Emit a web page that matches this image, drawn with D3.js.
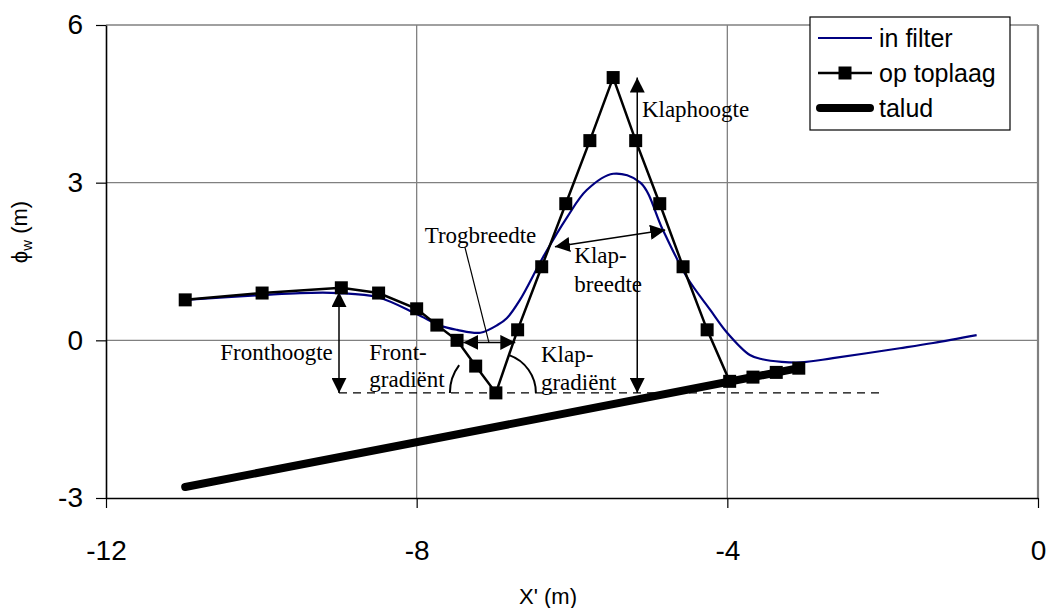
<!DOCTYPE html>
<html>
<head>
<meta charset="utf-8">
<script src="https://cdn.jsdelivr.net/npm/d3@7/dist/d3.min.js"></script>
<style>
  html, body { margin: 0; padding: 0; background: #fff; }
  svg { display: block; }
</style>
</head>
<body>
<script>
// ---------- data ----------
const xTicks = [-12, -8, -4, 0];
const yTicks = [-3, 0, 3, 6];

const filterX = [-10.98, -10.0, -9.5, -9.0, -8.5, -8.0, -7.7, -7.48, -7.18, -6.95, -6.84, -6.67, -6.37, -6.06, -5.81, -5.47, -5.12, -4.83, -4.52, -4.22, -4.0, -3.71, -3.55, -3.3, -3.06, -2.64, -1.78, -1.35, -0.79];
const filterY = [0.77, 0.86, 0.9, 0.9, 0.82, 0.5, 0.28, 0.2, 0.145, 0.3, 0.42, 0.77, 1.59, 2.35, 2.86, 3.17, 3.0, 2.1, 1.2, 0.58, 0.14, -0.28, -0.36, -0.41, -0.42, -0.34, -0.15, -0.05, 0.10];

const toplaagX = [-10.98, -9.99, -8.97, -8.49, -8.0, -7.74, -7.48, -7.24, -6.98, -6.70, -6.39, -6.08, -5.77, -5.47, -5.18, -4.87, -4.57, -4.26, -3.97, -3.67, -3.37, -3.08];
const toplaagY = [0.77, 0.9, 1.0, 0.9, 0.6, 0.29, 0.0, -0.49, -1.0, 0.2, 1.4, 2.6, 3.8, 5.0, 3.8, 2.6, 1.4, 0.2, -0.78, -0.70, -0.61, -0.53];

const taludX = [-10.98, -3.08];
const taludY = [-2.79, -0.53];

const seriesNames = ["in filter", "op toplaag", "talud"];

// annotation geometry in data units
const refLevel = -1.0;
const refX = [-9.0, -2.03];
const frontArrow = { x: -9.0, y1: 0.92, y2: -1.0 };
const klapArrow = { x: -5.16, y1: 5.0, y2: -1.0 };
const trogArrow = { x1: -7.40, x2: -6.73, y: -0.04 };
const trogLeader = { x1: -7.07, y1: -0.04, x2: -7.38, y2: 1.78 };
const klapBreedteArrow = { x1: -6.22, y1: 1.78, x2: -4.80, y2: 2.10 };
const troughPoint = { x: -6.98, y: -1.0 };

// ---------- layout ----------
const W = 1049, H = 608;
const mLeft = 106, mRight = 1038, mTop = 25, mBottom = 498;

const svg = d3.select("body").append("svg").attr("width", W).attr("height", H);
svg.append("rect").attr("width", W).attr("height", H).attr("fill", "#fff");

const x = d3.scaleLinear().domain([-12, 0]).range([mLeft, mRight]);
const y = d3.scaleLinear().domain([-3, 6]).range([mBottom, mTop]);

const sans = "'Liberation Sans', Arial, sans-serif";
const serif = "'Liberation Serif', 'Times New Roman', serif";

// gridlines
const grid = svg.append("g").attr("stroke", "#808080").attr("stroke-width", 1.3);
grid.selectAll("line.v").data(xTicks.filter(d => d > -12 && d < 0)).join("line")
  .attr("x1", d => x(d)).attr("x2", d => x(d)).attr("y1", mTop).attr("y2", mBottom);
grid.selectAll("line.h").data(yTicks.filter(d => d > -3)).join("line")
  .attr("x1", mLeft).attr("x2", mRight).attr("y1", d => y(d)).attr("y2", d => y(d));
grid.append("line").attr("x1", mRight).attr("x2", mRight).attr("y1", mTop).attr("y2", mBottom)
  .attr("stroke-width", 2.2);

// axes
const fmt = d => String(d);
const xAxis = svg.append("g").attr("transform", `translate(0,${mBottom})`)
  .call(d3.axisBottom(x).tickValues(xTicks).tickSize(10).tickSizeOuter(0).tickPadding(32).tickFormat(fmt));
const yAxis = svg.append("g").attr("transform", `translate(${mLeft},0)`)
  .call(d3.axisLeft(y).tickValues(yTicks).tickSize(10).tickSizeOuter(0).tickPadding(13).tickFormat(fmt));
[xAxis, yAxis].forEach(a => {
  a.select(".domain").attr("stroke", "#000").attr("stroke-width", 1.6);
  a.selectAll(".tick line").attr("stroke", "#000").attr("stroke-width", 1.2);
  a.selectAll(".tick text").attr("font-family", sans).attr("font-size", 28).attr("fill", "#000");
});

// axis titles
svg.append("text").attr("x", 548).attr("y", 604).attr("text-anchor", "middle")
  .attr("font-family", sans).attr("font-size", 22).text("X' (m)");
const yt = svg.append("text").attr("transform", "translate(27,232) rotate(-90)")
  .attr("text-anchor", "middle").attr("font-family", sans).attr("font-size", 22);
yt.append("tspan").text("ϕ");
yt.append("tspan").attr("font-size", 15).attr("dy", 5).text("w");
yt.append("tspan").attr("dy", -5).text(" (m)");

// markers for arrows
const defs = svg.append("defs");
defs.append("marker").attr("id", "ah").attr("markerUnits", "userSpaceOnUse")
  .attr("viewBox", "0 0 15 15").attr("refX", 15).attr("refY", 7.5)
  .attr("markerWidth", 15).attr("markerHeight", 15).attr("orient", "auto-start-reverse")
  .append("path").attr("d", "M0,0 L15,7.5 L0,15 Z").attr("fill", "#000");

// dashed reference line
svg.append("line").attr("x1", x(refX[0])).attr("x2", x(refX[1]))
  .attr("y1", y(refLevel)).attr("y2", y(refLevel))
  .attr("stroke", "#000").attr("stroke-width", 1.4).attr("stroke-dasharray", "8,6");

// series
const filterData = filterX.map((v, i) => [v, filterY[i]]);
const toplaagData = toplaagX.map((v, i) => [v, toplaagY[i]]);
const taludData = taludX.map((v, i) => [v, taludY[i]]);

svg.append("path").datum(filterData)
  .attr("d", d3.line().x(d => x(d[0])).y(d => y(d[1])).curve(d3.curveCatmullRom.alpha(0.5)))
  .attr("fill", "none").attr("stroke", "#000080").attr("stroke-width", 2.2);

svg.append("path").datum(toplaagData)
  .attr("d", d3.line().x(d => x(d[0])).y(d => y(d[1])))
  .attr("fill", "none").attr("stroke", "#000").attr("stroke-width", 2.5);
svg.selectAll("rect.sq").data(toplaagData).join("rect").attr("class", "sq")
  .attr("x", d => x(d[0]) - 6.5).attr("y", d => y(d[1]) - 6.5)
  .attr("width", 13).attr("height", 13).attr("fill", "#000");

svg.append("path").datum(taludData)
  .attr("d", d3.line().x(d => x(d[0])).y(d => y(d[1])))
  .attr("fill", "none").attr("stroke", "#000").attr("stroke-width", 8).attr("stroke-linecap", "round");

// annotations
const ann = svg.append("g").attr("stroke", "#000").attr("stroke-width", 1.5).attr("fill", "none");
function dbl(x1, y1, x2, y2) {
  ann.append("line").attr("x1", x(x1)).attr("y1", y(y1)).attr("x2", x(x2)).attr("y2", y(y2))
    .attr("marker-start", "url(#ah)").attr("marker-end", "url(#ah)");
}
dbl(frontArrow.x, frontArrow.y1, frontArrow.x, frontArrow.y2);
dbl(klapArrow.x, klapArrow.y1, klapArrow.x, klapArrow.y2);
dbl(trogArrow.x1, trogArrow.y, trogArrow.x2, trogArrow.y);
dbl(klapBreedteArrow.x1, klapBreedteArrow.y1, klapBreedteArrow.x2, klapBreedteArrow.y2);
ann.append("line").attr("x1", x(trogLeader.x1)).attr("y1", y(trogLeader.y1))
  .attr("x2", x(trogLeader.x2)).attr("y2", y(trogLeader.y2)).attr("stroke-width", 1.2);

// gradient arcs around trough point
const cx = x(troughPoint.x), cy = y(troughPoint.y);
const arcL = d3.arc().innerRadius(46).outerRadius(46)
  .startAngle(-Math.PI / 2).endAngle(-Math.PI / 2 + (37 * Math.PI / 180));
const arcR = d3.arc().innerRadius(40).outerRadius(40)
  .startAngle(Math.PI / 2 - (70.7 * Math.PI / 180)).endAngle(Math.PI / 2);
ann.append("path").attr("transform", `translate(${cx},${cy})`).attr("d", arcL()).attr("stroke-width", 2);
ann.append("path").attr("transform", `translate(${cx},${cy})`).attr("d", arcR()).attr("stroke-width", 2);

// annotation labels
const labels = [
  { t: "Fronthoogte", x: -9.08, y: -0.37, a: "end" },
  { t: "Front-", x: -8.61, y: -0.37, a: "start" },
  { t: "gradiënt", x: -8.61, y: -0.89, a: "start" },
  { t: "Trogbreedte", x: -6.46, y: 1.85, a: "end" },
  { t: "Klap-", x: -5.97, y: 1.47, a: "start" },
  { t: "breedte", x: -5.97, y: 0.92, a: "start" },
  { t: "Klaphoogte", x: -5.10, y: 4.25, a: "start" },
  { t: "Klap-", x: -6.40, y: -0.41, a: "start" },
  { t: "gradiënt", x: -6.40, y: -0.94, a: "start" }
];
svg.append("g").selectAll("text").data(labels).join("text")
  .attr("x", d => x(d.x)).attr("y", d => y(d.y)).attr("text-anchor", d => d.a)
  .attr("font-family", serif).attr("font-size", 23).attr("fill", "#000").text(d => d.t);

// legend
const lg = svg.append("g");
lg.append("rect").attr("x", 810).attr("y", 17).attr("width", 200).attr("height", 113)
  .attr("fill", "#fff").attr("stroke", "#000").attr("stroke-width", 1.2);
const rowY = [38, 73, 108];
lg.append("line").attr("x1", 818).attr("x2", 872).attr("y1", rowY[0]).attr("y2", rowY[0])
  .attr("stroke", "#000080").attr("stroke-width", 2.2);
lg.append("line").attr("x1", 818).attr("x2", 872).attr("y1", rowY[1]).attr("y2", rowY[1])
  .attr("stroke", "#000").attr("stroke-width", 2.5);
lg.append("rect").attr("x", 845 - 6.5).attr("y", rowY[1] - 6.5).attr("width", 13).attr("height", 13).attr("fill", "#000");
lg.append("line").attr("x1", 820).attr("x2", 870).attr("y1", rowY[2]).attr("y2", rowY[2])
  .attr("stroke", "#000").attr("stroke-width", 8).attr("stroke-linecap", "round");
lg.selectAll("text").data(seriesNames).join("text")
  .attr("x", 879).attr("y", (d, i) => rowY[i] + 9)
  .attr("font-family", sans).attr("font-size", 25).attr("fill", "#000").text(d => d);
</script>
</body>
</html>
